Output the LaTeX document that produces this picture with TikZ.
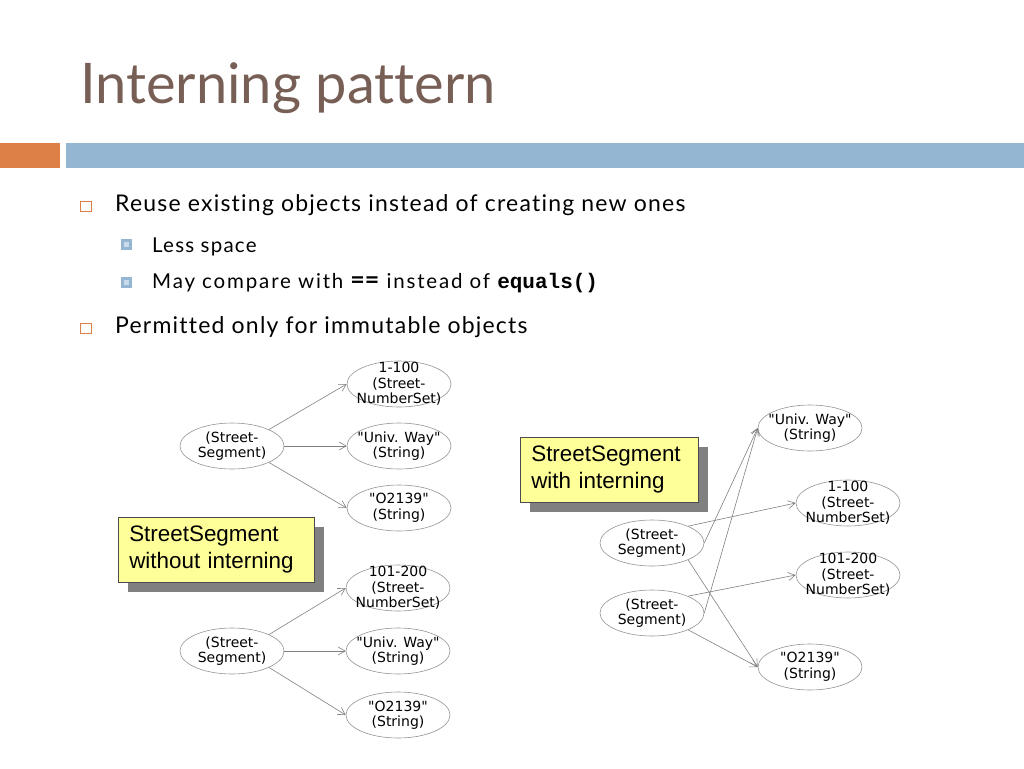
\documentclass[tikz,border=0pt]{standalone}
\usepackage{fontspec}
\setmainfont{Lato}[Ligatures=NoCommon]
\setmonofont{Liberation Mono}
\newfontfamily\objfont{DejaVu Sans}
\newfontfamily\notefont{Liberation Sans}
\usetikzlibrary{arrows.meta,positioning,shapes.geometric,shadows}

\definecolor{titlebrown}{HTML}{775F55}
\definecolor{barorange}{HTML}{DD8047}
\definecolor{barblue}{HTML}{94B6D2}
\definecolor{bulletblue}{HTML}{C9DAE8}
\definecolor{noteyellow}{HTML}{FFFF99}

\tikzset{
  obj/.style={ellipse, draw=gray!85, line width=0.6pt, minimum width=104pt, minimum height=46pt, inner sep=0pt,
    label={[font={\objfont\fontsize{14}{15.5}\selectfont}, align=center]center:#1}},
  ref/.style={draw=gray, line width=0.6pt, -{Straight Barb[length=7pt,width=8pt]}},
  note/.style={draw=black!70, line width=0.6pt, fill=noteyellow, anchor=north west, align=left,
    inner xsep=11pt, minimum height=65pt, font={\notefont\fontsize{22.4}{27}\selectfont},
    drop shadow={shadow xshift=10pt, shadow yshift=-10pt, fill=gray, opacity=1}},
  lvlone/.style={anchor=base west, inner sep=0pt, font={\fontsize{23}{26}\selectfont\addfontfeature{LetterSpace=5.3}}},
  lvltwo/.style={anchor=base west, inner sep=0pt, font={\fontsize{20.5}{23}\selectfont\addfontfeature{LetterSpace=6}}}
}

\begin{document}
\begin{tikzpicture}[x=1pt,y=-1pt]
\useasboundingbox (0,0) rectangle (1024,768);

% title and bars
\node[anchor=base west, inner sep=0pt, text=titlebrown, font=\fontsize{56}{60}\selectfont] (title) at (80,103) {Interning pattern};
\fill[barorange] (0,143) rectangle (60,168);
\fill[barblue] (66,143) rectangle (1024,168);

% bullets
\draw[barorange, line width=1.2pt] (80.5,201.5) rectangle (91.5,211.5);
\draw[barorange, line width=1.2pt] (80.5,323.5) rectangle (91.5,333.5);
\foreach \y in {239,277} {
  \fill[barblue] (121,\y) rectangle (132,\y+11);
  \fill[bulletblue] (124,\y+3) rectangle (129,\y+8);
}
\node[lvlone] (reuse) at (115,211) {Reuse existing objects instead of creating new ones};
\node[lvltwo] (space) at (152,252) {Less space};
\node[lvltwo, font={\fontsize{20.5}{23}\selectfont\addfontfeature{LetterSpace=9}}] (compare) at (152,288)
  {May compare with {\bfseries\fontsize{25}{26}\selectfont\addfontfeature{LetterSpace=0}==} instead of {\ttfamily\bfseries\fontsize{21}{24}\selectfont equals()}};
\node[lvlone] (immutable) at (115,333) {Permitted only for immutable objects};

% without interning, first object
\node[obj={(Street-\\Segment)}] (segA) at (232,446) {};
\node[obj={1-100\\(Street-\\NumberSet)}] (numA) at (399,384) {};
\node[obj={"Univ. Way"\\(String)}] (univA) at (399,446) {};
\node[obj={"O2139"\\(String)}] (zipA) at (399,508) {};
\draw[ref] (segA.24) -- (numA.west);
\draw[ref] (segA.east) -- (univA.west);
\draw[ref] (segA.-24) -- (zipA.west);

% without interning, second object
\node[obj={(Street-\\Segment)}] (segB) at (232,651) {};
\node[obj={101-200\\(Street-\\NumberSet)}] (numB) at (398,588) {};
\node[obj={"Univ. Way"\\(String)}] (univB) at (398,651) {};
\node[obj={"O2139"\\(String)}] (zipB) at (398,715) {};
\draw[ref] (segB.24) -- (numB.west);
\draw[ref] (segB.east) -- (univB.west);
\draw[ref] (segB.-24) -- (zipB.west);

\node[note, text width=174pt] (without) at (118,517) {StreetSegment\\without interning};

% with interning
\node[obj={(Street-\\Segment)}] (segC) at (652,543) {};
\node[obj={(Street-\\Segment)}] (segD) at (652,613) {};
\node[obj={"Univ. Way"\\(String)}] (univC) at (810,428) {};
\node[obj={1-100\\(Street-\\NumberSet)}] (numC) at (848,503) {};
\node[obj={101-200\\(Street-\\NumberSet)}] (numD) at (848,575) {};
\node[obj={"O2139"\\(String)}] (zipC) at (810,667) {};
\draw[ref] (segC.east) -- (univC.west);
\draw[ref] (segC.25) -- (numC.west);
\draw[ref] (segC.-25) -- (zipC.west);
\draw[ref] (segD.east) -- (univC.west);
\draw[ref] (segD.25) -- (numD.west);
\draw[ref] (segD.-25) -- (zipC.west);

\node[note, text width=156pt] (with) at (520,437) {StreetSegment\\with interning};

\end{tikzpicture}
\end{document}
